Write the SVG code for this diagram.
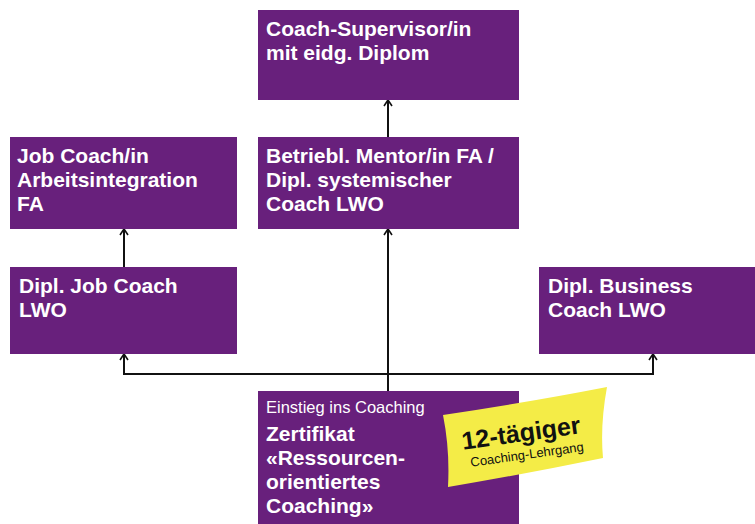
<svg xmlns="http://www.w3.org/2000/svg" width="755" height="524" viewBox="0 0 755 524">
<defs>
<style>
.box{fill:#68207c}
.t{font-family:"Liberation Sans",Arial,sans-serif;font-weight:700;font-size:21px;fill:#fff}
.s{font-family:"Liberation Sans",Arial,sans-serif;font-weight:400;font-size:16.5px;fill:#fff}
.c{stroke:#111;stroke-width:2;fill:none}
.a{stroke:#111;stroke-width:1.6;fill:none}
.h{font-family:"Liberation Sans","DejaVu Sans",sans-serif;fill:#111}
</style>
</defs>
<rect width="755" height="524" fill="#fff"/>
<g id="connectors">
<path class="c" d="M388,137 V101"/>
<path class="c" d="M388,391 V230"/>
<path class="c" d="M124,267 V230"/>
<path class="c" d="M124,355 V374 H653 V355"/>
<path class="a" d="M120,235 L124,229 L128,235 M384,235 L388,229 L392,235 M384,106 L388,100 L392,106 M120,360 L124,354 L128,360 M649,360 L653,354 L657,360"/>
</g>
<g id="supervisor">
<rect class="box" x="258" y="10" width="261" height="90"/>
<text class="t" x="266" y="36">Coach-Supervisor/in</text>
<text class="t" x="266" y="60">mit eidg. Diplom</text>
</g>
<g id="mentor">
<rect class="box" x="258" y="137" width="261" height="92"/>
<text class="t" x="266" y="163">Betriebl. Mentor/in FA /</text>
<text class="t" x="266" y="187">Dipl. systemischer</text>
<text class="t" x="266" y="211">Coach LWO</text>
</g>
<g id="jobcoach-fa">
<rect class="box" x="10" y="137" width="227" height="92"/>
<text class="t" x="17" y="163">Job Coach/in</text>
<text class="t" x="17" y="187">Arbeitsintegration</text>
<text class="t" x="17" y="211">FA</text>
</g>
<g id="jobcoach-lwo">
<rect class="box" x="10" y="267" width="227" height="87"/>
<text class="t" x="19" y="293">Dipl. Job Coach</text>
<text class="t" x="19" y="317">LWO</text>
</g>
<g id="business">
<rect class="box" x="539" y="267" width="216" height="87"/>
<text class="t" x="548" y="293">Dipl. Business</text>
<text class="t" x="548" y="317">Coach LWO</text>
</g>
<g id="zertifikat">
<rect class="box" x="258" y="391" width="261" height="133"/>
<text class="s" x="266" y="413">Einstieg ins Coaching</text>
<text class="t" x="266" y="441">Zertifikat</text>
<text class="t" x="266" y="465">«Ressourcen-</text>
<text class="t" x="266" y="489">orientiertes</text>
<text class="t" x="266" y="513">Coaching»</text>
</g>
<g id="note">
<path d="M443,415 Q530,402 607,387 Q600,425 603,458 Q525,474 448,487 Q450,450 443,415 Z" fill="#f4ec47"/>
<g transform="rotate(-8 525 440)">
<text class="h" x="522" y="441" text-anchor="middle" font-size="25" font-weight="700">12-tägiger</text>
<text class="h" x="525" y="459" text-anchor="middle" font-size="13">Coaching-Lehrgang</text>
</g>
</g>
</svg>
